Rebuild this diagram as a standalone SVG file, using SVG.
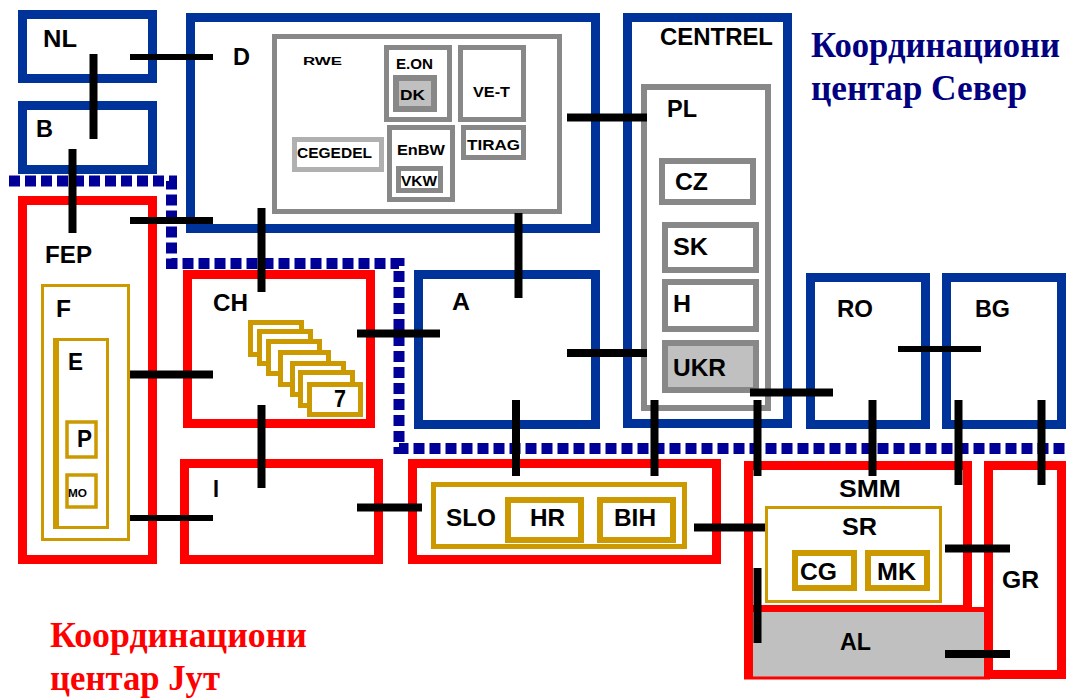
<svg xmlns="http://www.w3.org/2000/svg" width="1068" height="699" viewBox="0 0 1068 699">
<style>
.bl{fill:#fff;stroke:#003399;stroke-width:9}
.rd{fill:#fff;stroke:#ff0000;stroke-width:9}
.gy{fill:#fff;stroke:#888888;stroke-width:5}
.gy6{fill:#fff;stroke:#888888;stroke-width:6}
.gf{fill:#c0c0c0;stroke:#888888;stroke-width:6}
.lg{fill:#fff;stroke:#b0b0b0;stroke-width:5}
.gd{fill:#fff;stroke:#cc9900;stroke-width:3}
.gd5{fill:#fff;stroke:#cc9900;stroke-width:5}
.gd6{fill:#fff;stroke:#cc9900;stroke-width:6}
.t{font-family:"Liberation Sans",Arial,sans-serif;font-weight:bold;font-size:23px;fill:#000}
.s{font-family:"Liberation Sans",Arial,sans-serif;font-weight:bold;font-size:15px;fill:#000}
.big{font-family:"Liberation Serif","Times New Roman",serif;font-weight:bold;font-size:36px}
#links line{stroke:#000;stroke-width:8}
</style>

<g id="NL"><rect class="bl" x="22.5" y="14.5" width="130" height="64"/><text class="t" x="43" y="47" textLength="34" lengthAdjust="spacingAndGlyphs">NL</text></g>
<g id="B"><rect class="bl" x="22.5" y="105.5" width="130" height="64"/><text class="t" x="36" y="137" textLength="17" lengthAdjust="spacingAndGlyphs">B</text></g>

<g id="D"><rect class="bl" x="190.5" y="17.5" width="405" height="211"/><text class="t" x="233" y="65" textLength="17" lengthAdjust="spacingAndGlyphs">D</text>
<g id="RWE"><rect class="gy" x="274.5" y="36.5" width="285" height="175"/><text class="s" x="303" y="65" style="font-size:11px" textLength="39" lengthAdjust="spacingAndGlyphs">RWE</text></g>
<g id="EON"><rect class="gy" x="386.5" y="47.5" width="63" height="72"/><text class="s" x="396" y="69" textLength="37" lengthAdjust="spacingAndGlyphs">E.ON</text></g>
<g id="DK"><rect class="gf" x="396" y="78" width="38" height="31"/><text class="s" x="400" y="100" textLength="25" lengthAdjust="spacingAndGlyphs">DK</text></g>
<g id="VET"><rect class="gy" x="460.5" y="47.5" width="63" height="72"/><text class="s" x="473" y="97" textLength="37" lengthAdjust="spacingAndGlyphs">VE-T</text></g>
<g id="CEGEDEL"><rect class="lg" x="294.5" y="139.5" width="87" height="30"/><text class="s" x="297" y="158" textLength="75" lengthAdjust="spacingAndGlyphs">CEGEDEL</text></g>
<g id="EnBW"><rect class="gy" x="389.5" y="127.5" width="63" height="72"/><text class="s" x="397" y="155" textLength="48" lengthAdjust="spacingAndGlyphs">EnBW</text></g>
<g id="VKW"><rect class="gy" x="398.5" y="168.5" width="42" height="22"/><text class="s" x="401" y="186" textLength="36" lengthAdjust="spacingAndGlyphs">VKW</text></g>
<g id="TIRAG"><rect class="gy" x="463.5" y="127.5" width="60" height="30"/><text class="s" x="467" y="150" textLength="53" lengthAdjust="spacingAndGlyphs">TIRAG</text></g>
</g>

<g id="CENTREL"><rect class="bl" x="627.5" y="17.5" width="160" height="406"/><text class="t" x="660" y="45" textLength="113" lengthAdjust="spacingAndGlyphs">CENTREL</text>
<g id="PL"><rect class="gy6" x="644" y="87" width="124" height="321"/><text class="t" x="667" y="117" textLength="30" lengthAdjust="spacingAndGlyphs">PL</text></g>
<g id="CZ"><rect class="gy6" x="662" y="161" width="91" height="41"/><text class="t" x="675" y="190" textLength="33" lengthAdjust="spacingAndGlyphs">CZ</text></g>
<g id="SK"><rect class="gy6" x="665" y="225" width="91" height="45"/><text class="t" x="673" y="255" textLength="35" lengthAdjust="spacingAndGlyphs">SK</text></g>
<g id="H"><rect class="gy6" x="665" y="282" width="91" height="47"/><text class="t" x="673" y="312" textLength="18" lengthAdjust="spacingAndGlyphs">H</text></g>
<g id="UKR"><rect class="gf" x="665" y="343" width="91" height="47"/><text class="t" x="673" y="376" textLength="53" lengthAdjust="spacingAndGlyphs">UKR</text></g>
</g>

<g id="FEP"><rect class="rd" x="22.5" y="200.5" width="130" height="359"/><text class="t" x="45" y="263" textLength="47" lengthAdjust="spacingAndGlyphs">FEP</text>
<g id="F"><rect class="gd" x="42.5" y="285.5" width="86" height="254"/><text class="t" x="56" y="317" textLength="15" lengthAdjust="spacingAndGlyphs">F</text></g>
<g id="E"><rect class="gd" x="54.5" y="339.5" width="53" height="188"/><rect x="53" y="338" width="6" height="191" fill="#cc9900"/><text class="t" x="68" y="370" textLength="15" lengthAdjust="spacingAndGlyphs">E</text></g>
<g id="P"><rect class="gd" x="67" y="422" width="29" height="35" style="stroke-width:3.5"/><text class="t" x="77" y="447" textLength="15" lengthAdjust="spacingAndGlyphs">P</text></g>
<g id="MO"><rect class="gd" x="67" y="475" width="29" height="32" style="stroke-width:3.5"/><text class="s" x="68" y="497" style="font-size:10px" textLength="19" lengthAdjust="spacingAndGlyphs">MO</text></g>
</g>

<g id="CH"><rect class="rd" x="187.5" y="274.5" width="183" height="149"/><text class="t" x="213" y="311" textLength="35" lengthAdjust="spacingAndGlyphs">CH</text>
<rect class="gd5" x="250.5" y="322.5" width="51" height="32"/>
<rect class="gd5" x="259.5" y="331.5" width="51" height="32"/>
<rect class="gd5" x="268.5" y="341.5" width="51" height="32"/>
<rect class="gd5" x="280.5" y="352.5" width="48" height="32"/>
<rect class="gd5" x="292.5" y="363.5" width="51" height="31"/>
<rect class="gd5" x="300.5" y="372.5" width="52" height="33"/>
<rect class="gd5" x="309.5" y="384.5" width="51" height="30"/>
<text class="t" x="334" y="407" textLength="12" lengthAdjust="spacingAndGlyphs">7</text>
</g>

<g id="I"><rect class="rd" x="184.5" y="463.5" width="194" height="96"/><text class="t" x="213" y="497" textLength="6" lengthAdjust="spacingAndGlyphs">I</text></g>

<g id="A"><rect class="bl" x="418.5" y="274.5" width="177" height="150"/><text class="t" x="452" y="310" textLength="18" lengthAdjust="spacingAndGlyphs">A</text></g>

<g id="SLO"><rect class="rd" x="412.5" y="463.5" width="304" height="96"/>
<rect class="gd5" x="433.5" y="484.5" width="251" height="62"/><text class="t" x="446" y="526" textLength="50" lengthAdjust="spacingAndGlyphs">SLO</text>
<g id="HR"><rect class="gd6" x="508" y="500" width="73" height="40"/><text class="t" x="530" y="526" textLength="35" lengthAdjust="spacingAndGlyphs">HR</text></g>
<g id="BIH"><rect class="gd6" x="600" y="500" width="73" height="40"/><text class="t" x="614" y="526" textLength="42" lengthAdjust="spacingAndGlyphs">BIH</text></g>
</g>

<g id="RO"><rect class="bl" x="810.5" y="277.5" width="115" height="147"/><text class="t" x="837" y="317" textLength="36" lengthAdjust="spacingAndGlyphs">RO</text></g>
<g id="BG"><rect class="bl" x="946.5" y="277.5" width="115" height="147"/><text class="t" x="975" y="317" textLength="35" lengthAdjust="spacingAndGlyphs">BG</text></g>

<g id="SMM"><rect class="rd" x="748.5" y="465.5" width="219" height="144"/><text class="t" x="839" y="497" textLength="62" lengthAdjust="spacingAndGlyphs">SMM</text>
<g id="SR"><rect class="gd" x="766.5" y="507.5" width="174" height="94"/><text class="t" x="842" y="535" textLength="35" lengthAdjust="spacingAndGlyphs">SR</text></g>
<g id="CG"><rect class="gd6" x="795" y="553" width="59" height="35"/><text class="t" x="800" y="580" textLength="37" lengthAdjust="spacingAndGlyphs">CG</text></g>
<g id="MK"><rect class="gd6" x="868" y="553" width="59" height="35"/><text class="t" x="877" y="580" textLength="39" lengthAdjust="spacingAndGlyphs">MK</text></g>
</g>

<g id="AL"><rect x="750" y="610" width="238" height="67" fill="#c0c0c0"/><line x1="744" y1="609.5" x2="990" y2="609.5" stroke="#ff0000" stroke-width="5"/><line x1="748.5" y1="461" x2="748.5" y2="679" stroke="#ff0000" stroke-width="9"/><line x1="744" y1="678" x2="990" y2="678" stroke="#ff0000" stroke-width="3"/><text class="t" x="840" y="650" textLength="31" lengthAdjust="spacingAndGlyphs">AL</text></g>

<g id="GR"><rect class="rd" x="988.5" y="465.5" width="73" height="209"/><text class="t" x="1002" y="588" textLength="37" lengthAdjust="spacingAndGlyphs">GR</text></g>

<g id="border"><path d="M9,181 H171.5 V263.5 H399 V448.5 H1068" fill="none" stroke="#000099" stroke-width="11" stroke-dasharray="11 5"/></g>

<g id="links">
<line x1="130" y1="57" x2="213" y2="57" style="stroke-width:6"/>
<line x1="93.5" y1="54" x2="93.5" y2="139"/>
<line x1="72.5" y1="149" x2="72.5" y2="233"/>
<line x1="130" y1="220.5" x2="213" y2="220.5" style="stroke-width:7"/>
<line x1="261.5" y1="208" x2="261.5" y2="292"/>
<line x1="567" y1="117.5" x2="647" y2="117.5"/>
<line x1="518.5" y1="213" x2="518.5" y2="298"/>
<line x1="130" y1="374.5" x2="213" y2="374.5"/>
<line x1="357" y1="333.5" x2="440" y2="333.5"/>
<line x1="261.5" y1="405" x2="261.5" y2="488"/>
<line x1="130" y1="518" x2="213" y2="518" style="stroke-width:6"/>
<line x1="357" y1="507.5" x2="422" y2="507.5"/>
<line x1="567" y1="353" x2="647" y2="353"/>
<line x1="516" y1="400" x2="516" y2="476"/>
<line x1="654.5" y1="400" x2="654.5" y2="476"/>
<line x1="750" y1="392.5" x2="833" y2="392.5"/>
<line x1="757.5" y1="400" x2="757.5" y2="476"/>
<line x1="898" y1="349" x2="981" y2="349" style="stroke-width:6"/>
<line x1="872.5" y1="400" x2="872.5" y2="476"/>
<line x1="958.5" y1="400" x2="958.5" y2="485"/>
<line x1="1041.5" y1="400" x2="1041.5" y2="485"/>
<line x1="694" y1="527.5" x2="765" y2="527.5"/>
<line x1="945" y1="548.5" x2="1010" y2="548.5"/>
<line x1="757.5" y1="568" x2="757.5" y2="643"/>
<line x1="945" y1="654" x2="1010" y2="654"/>
</g>

<g id="north-label" class="big" fill="#000080"><text x="811" y="57" textLength="249" lengthAdjust="spacingAndGlyphs">Координациони</text><text x="811" y="100" textLength="216" lengthAdjust="spacingAndGlyphs">центар Север</text></g>
<g id="south-label" class="big" fill="#ff0000"><text x="50" y="647" textLength="257" lengthAdjust="spacingAndGlyphs">Координациони</text><text x="50" y="690" textLength="170" lengthAdjust="spacingAndGlyphs">центар Јут</text></g>
</svg>
